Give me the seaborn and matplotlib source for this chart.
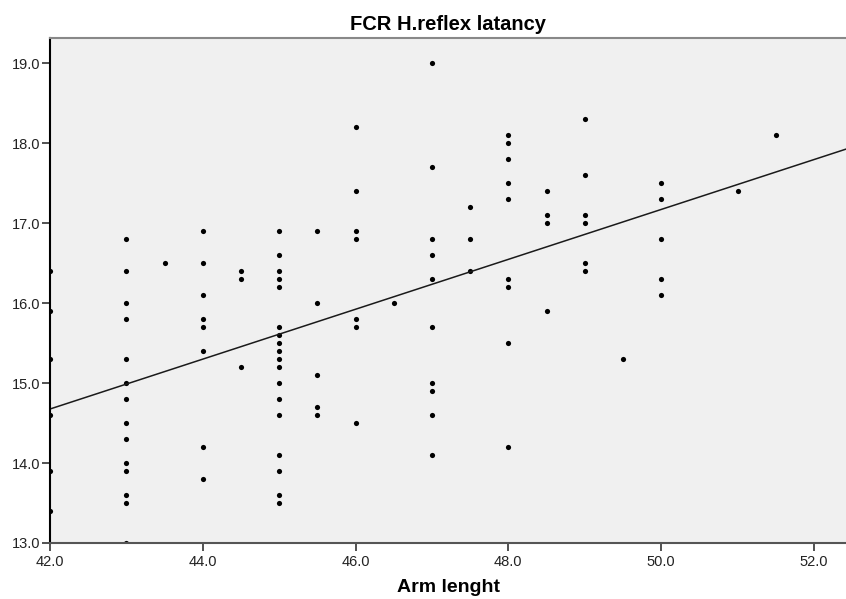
import matplotlib
matplotlib.use("Agg")
import matplotlib.pyplot as plt
import matplotlib.ticker as mticker
import numpy as np
import pandas as pd
import seaborn as sns

# values, grouped by arm length
arm_42 = [16.4, 15.9, 15.3, 14.6, 13.9, 13.4]
arm_43 = [16.8, 16.4, 16.0, 15.8, 15.3, 15.0, 14.8, 14.5, 14.3, 14.0, 13.9, 13.6, 13.5, 13.0]
arm_43_5 = [16.5]
arm_44 = [16.9, 16.5, 16.1, 15.8, 15.7, 15.4, 14.2, 13.8]
arm_44_5 = [16.4, 16.3, 15.2]
arm_45 = [16.9, 16.6, 16.4, 16.3, 16.2, 15.7, 15.6, 15.5, 15.4, 15.3, 15.2, 15.0, 14.8, 14.6, 14.1, 13.9, 13.6, 13.5]
arm_45_5 = [16.9, 16.0, 15.1, 14.7, 14.6]
arm_46 = [18.2, 17.4, 16.9, 16.8, 15.8, 15.7, 14.5]
arm_46_5 = [16.0]
arm_47 = [19.0, 17.7, 16.8, 16.6, 16.3, 15.7, 15.0, 14.9, 14.6, 14.1]
arm_47_5 = [17.2, 16.8, 16.4]
arm_48 = [18.1, 18.0, 17.8, 17.5, 17.3, 16.3, 16.2, 15.5, 14.2]
arm_48_5 = [17.4, 17.1, 17.0, 15.9]
arm_49 = [18.3, 17.6, 17.1, 17.0, 16.5, 16.4]
arm_49_5 = [15.3]
arm_50 = [17.5, 17.3, 16.8, 16.3, 16.1]
arm_51 = [17.4]
arm_51_5 = [18.1]

groups = {42.0: arm_42, 43.0: arm_43, 43.5: arm_43_5, 44.0: arm_44, 44.5: arm_44_5,
          45.0: arm_45, 45.5: arm_45_5, 46.0: arm_46, 46.5: arm_46_5, 47.0: arm_47,
          47.5: arm_47_5, 48.0: arm_48, 48.5: arm_48_5, 49.0: arm_49, 49.5: arm_49_5,
          50.0: arm_50, 51.0: arm_51, 51.5: arm_51_5}

df = pd.DataFrame([(k, v) for k, vals in groups.items() for v in vals],
                  columns=["Arm lenght", "latency"])

sns.set_style("ticks")
plt.rcParams['font.family'] = ['Liberation Sans', 'DejaVu Sans']

fig = plt.figure(figsize=(8.46, 5.99), dpi=100)
ax = fig.add_axes([50 / 846, 1 - 543 / 599, 1 - 50 / 846, (543 - 38.3) / 599])
ax.set_facecolor("#f0f0f0")

# set limits first so the fit line runs to the edges
ax.set_xlim(42, 52.42)
ax.set_ylim(13, 19.31)

sns.regplot(data=df, x="Arm lenght", y="latency", ax=ax, ci=None, truncate=False,
            scatter_kws=dict(s=14, color="black", linewidths=0, alpha=1),
            line_kws=dict(color="#1a1a1a", linewidth=1.1))

ax.set_xlim(42, 52.42)
ax.set_ylim(13, 19.31)
ax.set_xticks(np.arange(42, 53, 2))
ax.set_yticks(np.arange(13, 20, 1))
ax.xaxis.set_major_formatter(mticker.FormatStrFormatter("%.1f"))
ax.yaxis.set_major_formatter(mticker.FormatStrFormatter("%.1f"))
ax.tick_params(axis="both", labelsize=10.5, length=6, width=1.2, colors="#333333",
               labelcolor="#222222", pad=1)
ax.tick_params(axis="x", pad=3)

ax.spines["left"].set_color("black")
ax.spines["left"].set_linewidth(1.5)
ax.spines["bottom"].set_color("#555555")
ax.spines["bottom"].set_linewidth(1.5)
ax.spines["top"].set_color("#888888")
ax.spines["top"].set_linewidth(1.5)
ax.spines["right"].set_visible(False)

ax.set_title("FCR H.reflex latancy", fontsize=14.5, fontweight="bold", pad=6, color="black")
ax.set_xlabel("Arm lenght", fontsize=14, fontweight="bold", labelpad=7, color="black")
ax.set_ylabel("")

fig.savefig("out.png", dpi=100)
